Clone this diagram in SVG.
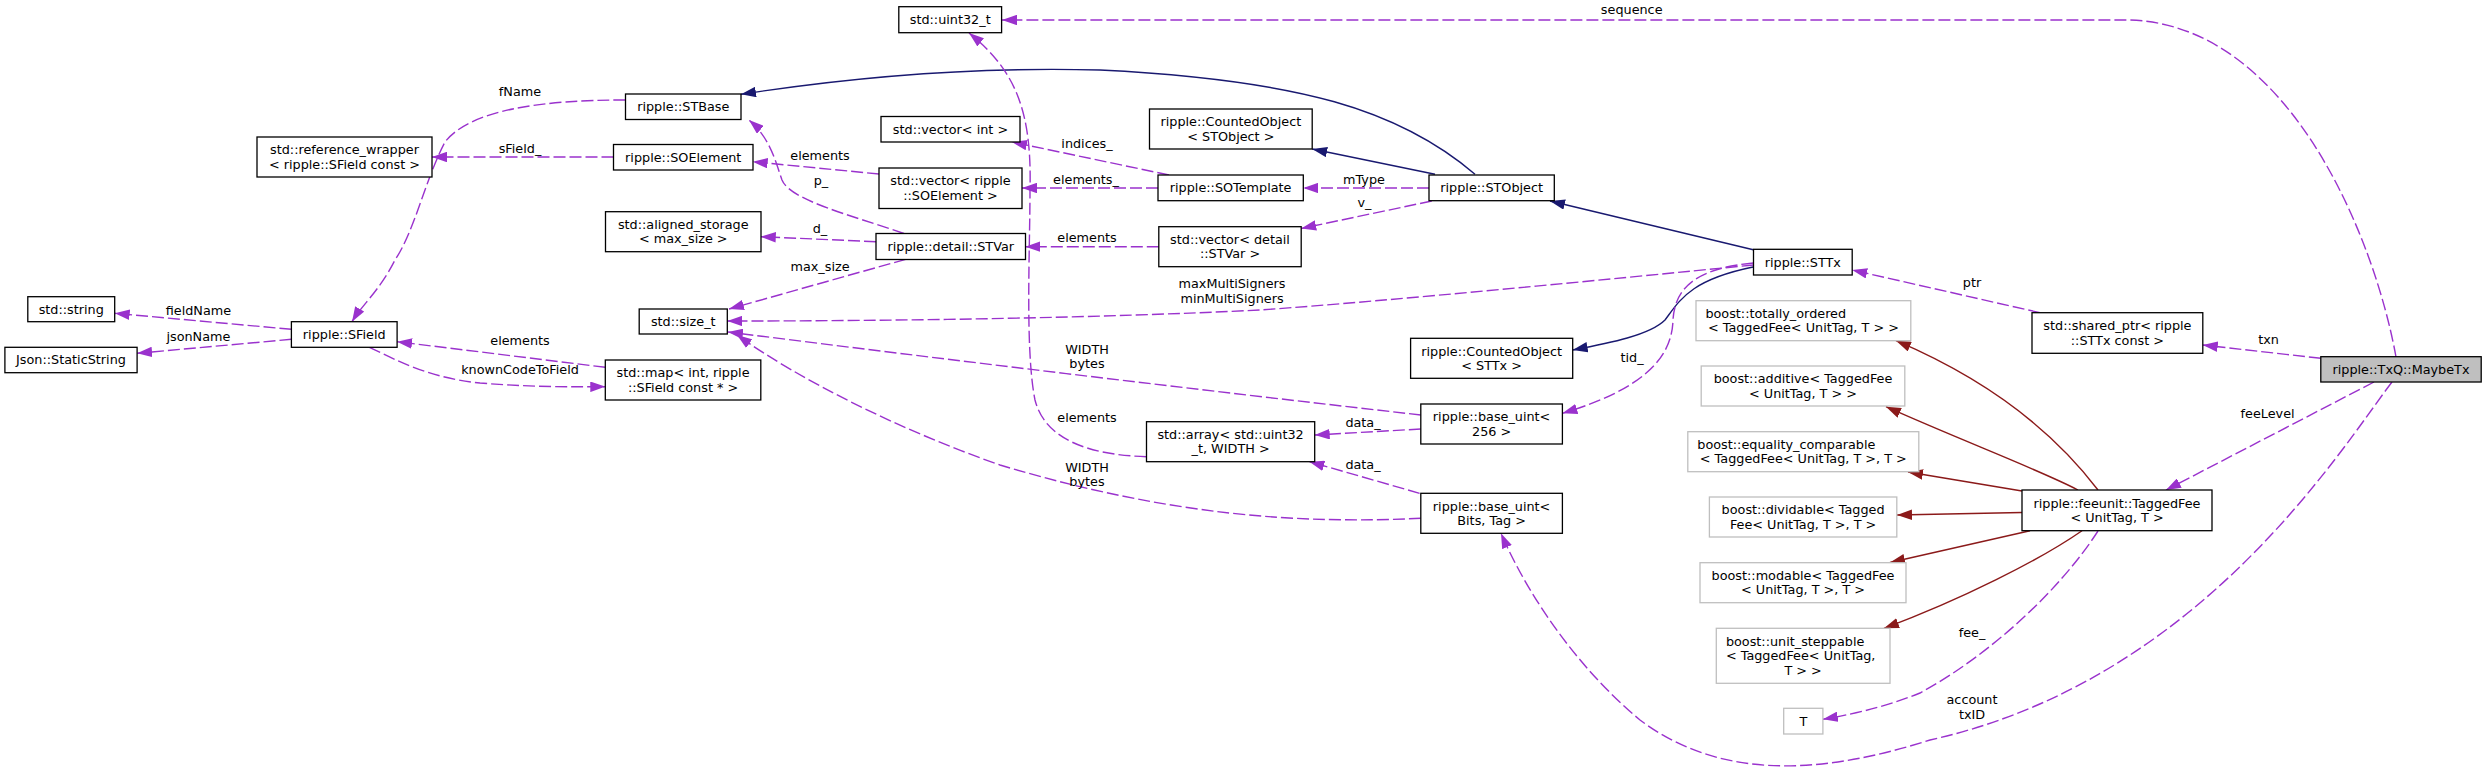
<svg xmlns="http://www.w3.org/2000/svg" width="2487" height="777" viewBox="0 0 2487 777">
<defs>
<style>
.n rect{fill:#fff;stroke:#000;stroke-width:1.3}
.g rect{fill:#fff;stroke:#bfbfbf;stroke-width:1.3}
.root rect{fill:#bfbfbf;stroke:#000;stroke-width:1.3}
text{font-family:"DejaVu Sans","Liberation Sans",sans-serif;font-size:12.8px;fill:#000;text-anchor:middle}
text.s{text-anchor:start}
.e{fill:none;stroke:#9a32cd;stroke-width:1.4;stroke-dasharray:12,4;marker-end:url(#ap)}
.b{fill:none;stroke:#191970;stroke-width:1.4;marker-end:url(#ab)}
.r{fill:none;stroke:#8b1a1a;stroke-width:1.4;marker-end:url(#ar)}
</style>
<marker id="ap" viewBox="0 0 15 10.5" refX="15" refY="5.25" markerWidth="15" markerHeight="10.5" markerUnits="userSpaceOnUse" orient="auto"><path d="M0,0L15,5.25L0,10.5z" fill="#9a32cd"/></marker>
<marker id="ab" viewBox="0 0 15 10.5" refX="15" refY="5.25" markerWidth="15" markerHeight="10.5" markerUnits="userSpaceOnUse" orient="auto"><path d="M0,0L15,5.25L0,10.5z" fill="#191970"/></marker>
<marker id="ar" viewBox="0 0 15 10.5" refX="15" refY="5.25" markerWidth="15" markerHeight="10.5" markerUnits="userSpaceOnUse" orient="auto"><path d="M0,0L15,5.25L0,10.5z" fill="#8b1a1a"/></marker>
</defs>
<rect width="2487" height="777" fill="#fff"/>
<g id="edges">
<path class="e" d="M2396,357 C2375,240 2290,25 2130,20 L1002,20"/>
<text x="1631.7" y="14">sequence</text>
<path class="b" d="M1475,174.3 C1400,110 1300,80 1100,70 C950,66 820,82 741,94.3"/>
<path class="e" d="M625.5,100 C540,100 470,110 445,142 C425,180 415,230 395,260 C380,290 362,305 352,321.7"/>
<text x="520" y="96.4">fName</text>
<path class="e" d="M613.5,157 L432,157"/>
<text x="520" y="153">sField_</text>
<path class="e" d="M879,174 L752.7,161.7"/>
<text x="820" y="159.7">elements</text>
<path class="e" d="M1169,175 L1012,142"/>
<text x="1087" y="148">indices_</text>
<path class="e" d="M1158,188 L1022,188"/>
<text x="1086" y="184">elements_</text>
<path class="e" d="M904,233.5 C850,215 790,200 782,180 C775,160 770,138 749,120"/>
<text x="821" y="184.5">p_</text>
<path class="e" d="M876,241.7 L760.8,236.7"/>
<text x="820" y="233.3">d_</text>
<path class="e" d="M1158.8,246.7 L1025.3,246.7"/>
<text x="1087" y="242.3">elements</text>
<path class="e" d="M1146.5,456.7 C1090,455 1045,440 1035,400 C1025,350 1030,250 1030,190 C1032,110 1015,70 969,33"/>
<text x="1087" y="422.3">elements</text>
<path class="e" d="M1429,188 L1303.3,188"/>
<text x="1364" y="183.5">mType</text>
<path class="e" d="M1431.8,201 L1301.2,228.5"/>
<text x="1364.5" y="207">v_</text>
<path class="b" d="M1435,174.3 L1312.2,149"/>
<path class="b" d="M1754.3,250 L1550,201"/>
<path class="e" d="M291.4,329.3 L114.7,313.3"/>
<text x="198.4" y="314.7">fieldName</text>
<path class="e" d="M291.4,339.3 L137.1,353.3"/>
<text x="198.4" y="340.7">jsonName</text>
<path class="e" d="M605.3,367.3 L397.1,341.7"/>
<text x="520" y="344.7">elements</text>
<path class="e" d="M369.4,347.3 C400,362 430,378 480,383 C530,387 570,387 605.3,386.7"/>
<text x="520" y="374">knownCodeToField</text>
<path class="e" d="M905.7,259.3 L729,309"/>
<text x="820" y="271">max_size</text>
<path class="e" d="M1753.5,265 C1600,280 1400,300 1260,310 C1100,318 900,321 727.3,321"/>
<text x="1232" y="288.3">maxMultiSigners</text>
<text x="1232" y="303.3">minMultiSigners</text>
<path class="e" d="M1420.8,415 C1200,390 950,360 728,332"/>
<text x="1087" y="354">WIDTH</text>
<text x="1087" y="368.3">bytes</text>
<path class="e" d="M1420.8,518.3 C1300,524 1170,516 1000,465 C900,430 800,380 737,335"/>
<text x="1087" y="471.7">WIDTH</text>
<text x="1087" y="486.3">bytes</text>
<path class="b" d="M1753,267 C1690,280 1680,300 1665,320 C1650,335 1610,343 1572.7,350"/>
<path class="e" d="M1753.5,263 C1700,268 1675,285 1673,320 C1672,360 1640,390 1562.4,413.3"/>
<text x="1632" y="362">tid_</text>
<path class="e" d="M1420.8,429 L1314.7,435"/>
<text x="1363" y="427">data_</text>
<path class="e" d="M1419.6,493.3 L1309.4,461.7"/>
<text x="1363" y="469">data_</text>
<path class="e" d="M2040,312.7 L1852.2,270"/>
<text x="1972" y="286.5">ptr</text>
<path class="e" d="M2320.8,358.3 L2202.8,345"/>
<text x="2268.6" y="343.7">txn</text>
<path class="e" d="M2374,382 L2166,490"/>
<text x="2267.6" y="418.3">feeLevel</text>
<path class="e" d="M2098,531 C2060,590 1990,655 1920,693 C1890,705 1860,713 1822.9,719.3"/>
<text x="1972" y="636.5">fee_</text>
<path class="e" d="M2392,382 C2340,450 2200,680 1930,740 C1820,775 1720,780 1640,720 C1580,670 1530,600 1501,533.3"/>
<text x="1972" y="704.2">account</text>
<text x="1972" y="719.4">txID</text>
<path class="r" d="M2098,490 C2060,440 2000,385 1896,340.7"/>
<path class="r" d="M2078,490 C2040,470 1960,440 1886,406.7"/>
<path class="r" d="M2022,491 L1908,472"/>
<path class="r" d="M2022,512.5 L1897,515"/>
<path class="r" d="M2030,530.7 L1890,562.5"/>
<path class="r" d="M2082,530.7 C2040,560 1960,600 1884,628.3"/>
</g>
<g id="n_stbase" class="n"><rect x="625.5" y="94" width="115.5" height="25.5"/><text x="683.25" y="111">ripple::STBase</text></g>
<g id="n_refwrap" class="n"><rect x="257" y="137" width="175" height="40"/><text x="344.5" y="154.2">std::reference_wrapper</text><text x="344.5" y="168.7">&lt; ripple::SField const &gt;</text></g>
<g id="n_soelement" class="n"><rect x="613.5" y="144.5" width="139.5" height="25.5"/><text x="683.25" y="161.6">ripple::SOElement</text></g>
<g id="n_aligned" class="n"><rect x="605.5" y="211.7" width="155.5" height="40"/><text x="683.25" y="228.9">std::aligned_storage</text><text x="683.25" y="243.4">&lt; max_size &gt;</text></g>
<g id="n_uint32" class="n"><rect x="898.8" y="6.7" width="102.8" height="26"/><text x="950.2" y="24.1">std::uint32_t</text></g>
<g id="n_vecint" class="n"><rect x="881" y="116.5" width="139" height="25.5"/><text x="950.5" y="133.6">std::vector&lt; int &gt;</text></g>
<g id="n_vecsoel" class="n"><rect x="879" y="168" width="143" height="40.5"/><text x="950.5" y="185.4">std::vector&lt; ripple</text><text x="950.5" y="199.9">::SOElement &gt;</text></g>
<g id="n_stvar" class="n"><rect x="876" y="233.5" width="149.5" height="26"/><text x="950.75" y="250.9">ripple::detail::STVar</text></g>
<g id="n_cntstobj" class="n"><rect x="1149.5" y="109" width="162.7" height="40"/><text x="1230.85" y="126.2">ripple::CountedObject</text><text x="1230.85" y="140.7">&lt; STObject &gt;</text></g>
<g id="n_sotemplate" class="n"><rect x="1158" y="175" width="145.3" height="25.7"/><text x="1230.65" y="192.2">ripple::SOTemplate</text></g>
<g id="n_vecstvar" class="n"><rect x="1158.8" y="226.7" width="142.4" height="40"/><text x="1230" y="243.9">std::vector&lt; detail</text><text x="1230" y="258.4">::STVar &gt;</text></g>
<g id="n_stobject" class="n"><rect x="1429" y="175" width="125.3" height="25.7"/><text x="1491.65" y="192.2">ripple::STObject</text></g>
<g id="n_sttx" class="n"><rect x="1753.5" y="249.3" width="98.7" height="25.7"/><text x="1802.85" y="266.5">ripple::STTx</text></g>
<g id="n_string" class="n"><rect x="27.8" y="296.7" width="86.9" height="25"/><text x="71.25" y="313.6">std::string</text></g>
<g id="n_jsonss" class="n"><rect x="4.9" y="347.3" width="132.2" height="25.4"/><text x="71" y="364.4">Json::StaticString</text></g>
<g id="n_sfield" class="n"><rect x="291.4" y="321.7" width="105.7" height="25.6"/><text x="344.25" y="338.9">ripple::SField</text></g>
<g id="n_map" class="n"><rect x="605.3" y="360" width="155.5" height="40"/><text x="683.05" y="377.2">std::map&lt; int, ripple</text><text x="683.05" y="391.7">::SField const * &gt;</text></g>
<g id="n_sizet" class="n"><rect x="639.2" y="309" width="88.1" height="25"/><text x="683.25" y="325.9">std::size_t</text></g>
<g id="n_cntsttx" class="n"><rect x="1410.6" y="338.3" width="162.1" height="40"/><text x="1491.65" y="355.5">ripple::CountedObject</text><text x="1491.65" y="370">&lt; STTx &gt;</text></g>
<g id="n_bu256" class="n"><rect x="1420.8" y="404" width="141.6" height="40"/><text x="1491.6" y="421.2">ripple::base_uint&lt;</text><text x="1491.6" y="435.7">256 &gt;</text></g>
<g id="n_array" class="n"><rect x="1146.5" y="421.7" width="168.2" height="40"/><text x="1230.6" y="438.9">std::array&lt; std::uint32</text><text x="1230.6" y="453.4">_t, WIDTH &gt;</text></g>
<g id="n_bubits" class="n"><rect x="1420.8" y="493.3" width="141.6" height="40"/><text x="1491.6" y="510.5">ripple::base_uint&lt;</text><text x="1491.6" y="525">Bits, Tag &gt;</text></g>
<g id="n_totord" class="g"><rect x="1696" y="300.7" width="214.8" height="40"/><text class="s" x="1705.4" y="317.9">boost::totally_ordered</text><text x="1803.4" y="332.4">&lt; TaggedFee&lt; UnitTag, T &gt; &gt;</text></g>
<g id="n_additive" class="g"><rect x="1701.2" y="366" width="203.6" height="40"/><text x="1803" y="383.2">boost::additive&lt; TaggedFee</text><text x="1803" y="397.7">&lt; UnitTag, T &gt; &gt;</text></g>
<g id="n_eqcomp" class="g"><rect x="1687.8" y="431.7" width="231" height="40"/><text class="s" x="1697.3" y="448.9">boost::equality_comparable</text><text x="1803.3" y="463.4">&lt; TaggedFee&lt; UnitTag, T &gt;, T &gt;</text></g>
<g id="n_divid" class="g"><rect x="1709.4" y="497" width="187.4" height="40"/><text x="1803.1" y="514.2">boost::dividable&lt; Tagged</text><text x="1803.1" y="528.7">Fee&lt; UnitTag, T &gt;, T &gt;</text></g>
<g id="n_modable" class="g"><rect x="1700" y="562.7" width="206" height="40"/><text x="1803" y="579.9">boost::modable&lt; TaggedFee</text><text x="1803" y="594.4">&lt; UnitTag, T &gt;, T &gt;</text></g>
<g id="n_unitstep" class="g"><rect x="1716.3" y="628.3" width="173.7" height="55"/><text class="s" x="1725.9" y="645.7">boost::unit_steppable</text><text class="s" x="1725.9" y="660.2">&lt; TaggedFee&lt; UnitTag,</text><text x="1803.15" y="674.7">T &gt; &gt;</text></g>
<g id="n_T" class="g"><rect x="1783.7" y="708.3" width="39.2" height="25.7"/><text x="1803.3" y="725.5">T</text></g>
<g id="n_shptr" class="n"><rect x="2032" y="312.7" width="170.8" height="40.6"/><text x="2117.4" y="330.2">std::shared_ptr&lt; ripple</text><text x="2117.4" y="344.7">::STTx const &gt;</text></g>
<g id="n_maybetx" class="root"><rect x="2320.8" y="356.7" width="160.4" height="25.3"/><text x="2401" y="373.7">ripple::TxQ::MaybeTx</text></g>
<g id="n_taggedfee" class="n"><rect x="2022" y="490" width="190" height="40.7"/><text x="2117" y="507.5">ripple::feeunit::TaggedFee</text><text x="2117" y="522">&lt; UnitTag, T &gt;</text></g>
</svg>
